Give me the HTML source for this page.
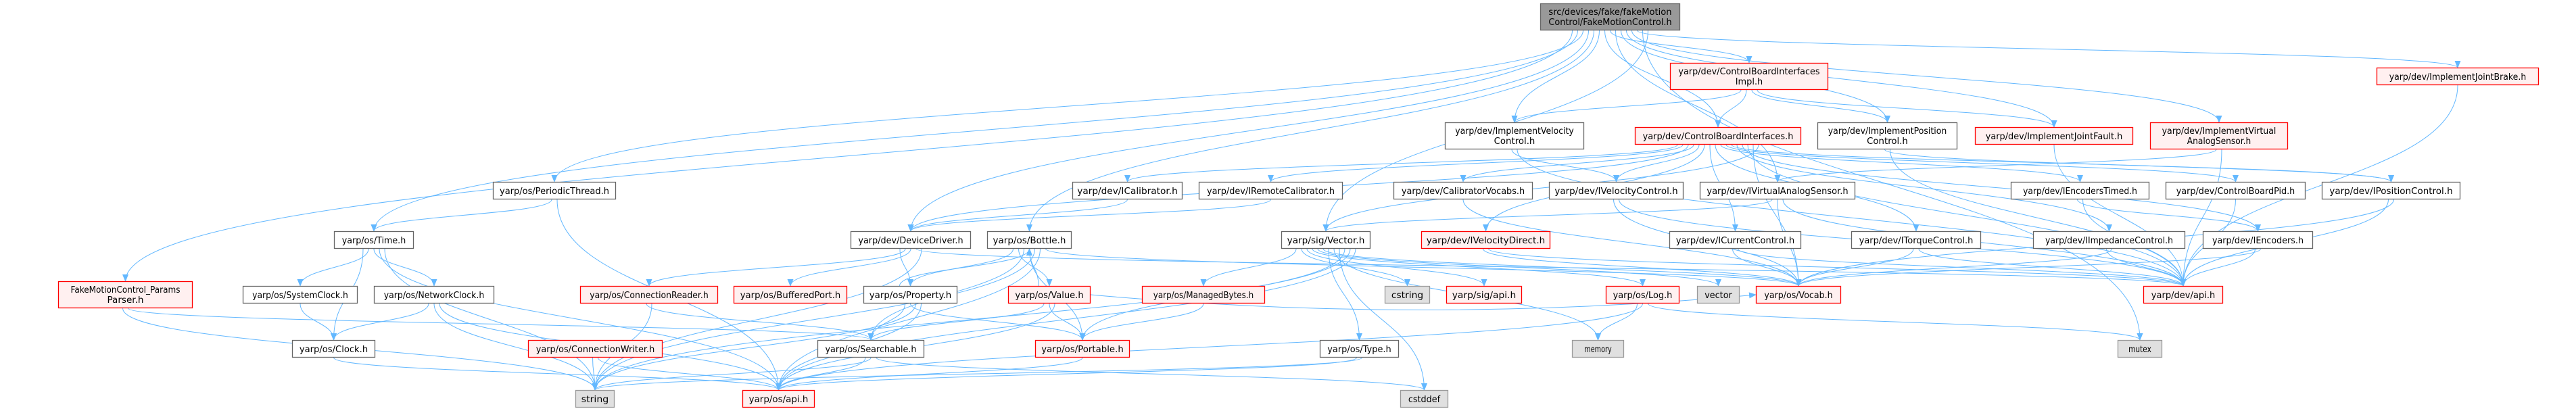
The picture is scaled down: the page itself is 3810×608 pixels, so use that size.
<!DOCTYPE html>
<html><head><meta charset="utf-8">
<style>
html,body{margin:0;padding:0;background:#fff;}
svg{display:block;}
text{font-family:"DejaVu Sans","Liberation Sans",sans-serif;font-size:13px;fill:#000;}
</style></head>
<body>
<svg id="g" width="3810" height="608" viewBox="0 0 3810 608" xmlns="http://www.w3.org/2000/svg">
<defs>
<marker id="ah" markerWidth="11" markerHeight="9" refX="10" refY="4.5" orient="auto" markerUnits="userSpaceOnUse">
<path d="M0,0 L11,4.5 L0,9 z" fill="#63b8ff"/>
</marker>
</defs>
<g id="edges" fill="none" stroke="#63b8ff" stroke-width="1"></g>
<g id="nodes"></g>
</svg>
<script>
var N={
T:[2278,5,2485,45,'k',['src/devices/fake/fakeMotion','Control/FakeMotionControl.h']],
PT:[729,269,911,295,'w',['yarp/os/PeriodicThread.h']],
TM:[494,342,612,368,'w',['yarp/os/Time.h']],
PP:[86,416,285,456,'r',['FakeMotionControl_Params','Parser.h']],
SC:[359,423,529,449,'w',['yarp/os/SystemClock.h']],
NC:[553,423,731,449,'w',['yarp/os/NetworkClock.h']],
CL:[432,503,555,529,'w',['yarp/os/Clock.h']],
CW:[781,503,980,529,'r',['yarp/os/ConnectionWriter.h']],
CR:[858,423,1062,449,'r',['yarp/os/ConnectionReader.h']],
ST:[851,577,909,603,'g',['string']],
ICA:[1586,269,1749,295,'w',['yarp/dev/ICalibrator.h']],
IRC:[1773,269,1986,295,'w',['yarp/dev/IRemoteCalibrator.h']],
DD:[1258,342,1436,368,'w',['yarp/dev/DeviceDriver.h']],
BO:[1460,342,1585,368,'w',['yarp/os/Bottle.h']],
BP:[1085,423,1253,449,'r',['yarp/os/BufferedPort.h']],
PR:[1277,423,1416,449,'w',['yarp/os/Property.h']],
VA:[1491,423,1613,449,'r',['yarp/os/Value.h']],
MB:[1689,423,1871,449,'r',['yarp/os/ManagedBytes.h']],
SE:[1209,503,1367,529,'w',['yarp/os/Searchable.h']],
PO:[1531,503,1671,529,'r',['yarp/os/Portable.h']],
OA:[1098,577,1205,603,'r',['yarp/os/api.h']],
VE:[1895,342,2027,368,'w',['yarp/sig/Vector.h']],
CI:[2470,93,2704,133,'r',['yarp/dev/ControlBoardInterfaces','Impl.h']],
IVC:[2137,181,2343,221,'w',['yarp/dev/ImplementVelocity','Control.h']],
CB:[2418,188,2664,214,'r',['yarp/dev/ControlBoardInterfaces.h']],
IPC:[2688,181,2895,221,'w',['yarp/dev/ImplementPosition','Control.h']],
CV:[2061,269,2267,295,'w',['yarp/dev/CalibratorVocabs.h']],
VC:[2291,269,2490,295,'w',['yarp/dev/IVelocityControl.h']],
VAS:[2514,269,2744,295,'w',['yarp/dev/IVirtualAnalogSensor.h']],
VD:[2102,342,2293,368,'r',['yarp/dev/IVelocityDirect.h']],
CC:[2469,342,2664,368,'w',['yarp/dev/ICurrentControl.h']],
TC:[2738,342,2930,368,'w',['yarp/dev/ITorqueControl.h']],
CS:[2048,423,2115,449,'g',['cstring']],
SA:[2139,423,2251,449,'r',['yarp/sig/api.h']],
LG:[2375,423,2484,449,'r',['yarp/os/Log.h']],
VEC:[2510,423,2573,449,'g',['vector']],
VO:[2597,423,2723,449,'r',['yarp/os/Vocab.h']],
TY:[1952,503,2069,529,'w',['yarp/os/Type.h']],
ME:[2325,503,2402,529,'g',['memory']],
CD:[2071,577,2142,603,'g',['cstddef']],
JB:[3515,100,3755,126,'r',['yarp/dev/ImplementJointBrake.h']],
JF:[2921,188,3155,214,'r',['yarp/dev/ImplementJointFault.h']],
IVA:[3180,181,3384,221,'r',['yarp/dev/ImplementVirtual','AnalogSensor.h']],
ET:[2974,269,3179,295,'w',['yarp/dev/IEncodersTimed.h']],
PID:[3203,269,3410,295,'w',['yarp/dev/ControlBoardPid.h']],
POS:[3434,269,3639,295,'w',['yarp/dev/IPositionControl.h']],
IMP:[3007,342,3232,368,'w',['yarp/dev/IImpedanceControl.h']],
EN:[3258,342,3421,368,'w',['yarp/dev/IEncoders.h']],
DA:[3170,423,3288,449,'r',['yarp/dev/api.h']],
MU:[3132,503,3198,529,'g',['mutex']]
};
var E={
T:['PP','TM','PT','DD','BO','IVC','CB','CI','VAS','IPC','JF','IVA','JB','MU','VE'],
CI:['IVC','CB','IPC','JF'],
CB:['ICA','IRC','DD','CV','VC','VD','CC','TC','ET','PID','POS','IMP','EN','DA','VO','VE'],
IVC:['VC','DA'],IPC:['POS','DA'],IVA:['VAS','DA'],JB:['DA'],JF:['DA'],
ICA:['DD'],IRC:['DD'],VAS:['VE','VO','DA'],VC:['VO','DA'],CV:['VO'],VD:['VO','DA'],
CC:['VO','DA'],TC:['VO','DA'],ET:['EN','DA'],PID:['DA'],POS:['DA','VO'],IMP:['DA','VO'],EN:['DA','VO'],
DD:['PR','CR','BP','DA','ST'],BO:['PR','VA','SE','PO','ST','OA','VO'],PR:['BO','SE','PO','ST','OA'],
VA:['BO','SE','PO','OA','VO'],MB:['PO'],
VE:['MB','CS','SA','LG','VEC','VO','TY','ME','CD','PO','ST','OA'],
LG:['ME','OA','MU'],TY:['OA','ST'],SE:['OA','ST','CD'],PO:['OA'],CR:['SE','ST'],CW:['ST','OA'],
TM:['CL','SC','NC','OA','ST'],SC:['CL'],NC:['CL','ST','OA'],CL:['OA'],PP:['ST','SE'],PT:['TM','OA']
};
var ns='http://www.w3.org/2000/svg';
var eg=document.getElementById('edges'),ng=document.getElementById('nodes');
function el(t,a,p){var e=document.createElementNS(ns,t);for(var k in a)e.setAttribute(k,a[k]);p.appendChild(e);return e;}
for(var s in E){E[s].forEach(function(t,i){
 var a=N[s],b=N[t];
 var sx=(a[0]+a[2])/2+(i-(E[s].length-1)/2)*Math.min(8,(a[2]-a[0])/E[s].length),sy=a[3];
 var tx=(b[0]+b[2])/2,ty=b[1];
 if(b[1]<a[1]){sy=a[1];ty=b[3];}
 var d;
 if(Math.abs(b[1]-a[1])<5){
   if(tx>sx){sx=a[2];tx=b[0];}else{sx=a[0];tx=b[2];}
   sy=(a[1]+a[3])/2;ty=(b[1]+b[3])/2;
   d='M'+sx+','+sy+' C'+(sx+(tx-sx)/3)+','+(sy+30)+' '+(tx-(tx-sx)/3)+','+(ty+30)+' '+tx+','+ty;
 } else {
   var dy=(ty-sy)*0.5;
   d='M'+sx+','+sy+' C'+sx+','+(sy+dy)+' '+tx+','+(ty-dy)+' '+tx+','+ty;
 }
 el('path',{d:d,'marker-end':'url(#ah)'},eg);
});}
var sty={w:['#ffffff','#666666'],r:['#fff0f0','#ff0000'],g:['#e0e0e0','#999999'],k:['#999999','#666666']};
for(var k in N){var n=N[k],c=sty[n[4]];
 el('rect',{x:n[0]+0.5,y:n[1]+0.5,width:n[2]-n[0]-1,height:n[3]-n[1]-1,fill:c[0],stroke:c[1],'stroke-width':1.3},ng);
 var cx=(n[0]+n[2])/2,L=n[5];
 L.forEach(function(s,i){
  var y=L.length==1?(n[1]+n[3])/2+5:n[1]+17+i*15;
  var tw=s.length*6.75; var mx=n[2]-n[0]-14; if(tw>mx)tw=mx;
  var t=el('text',{x:cx,y:y,'text-anchor':'middle',textLength:tw,lengthAdjust:'spacingAndGlyphs'},ng);
  t.textContent=s;
 });
}
</script>
</body></html>
